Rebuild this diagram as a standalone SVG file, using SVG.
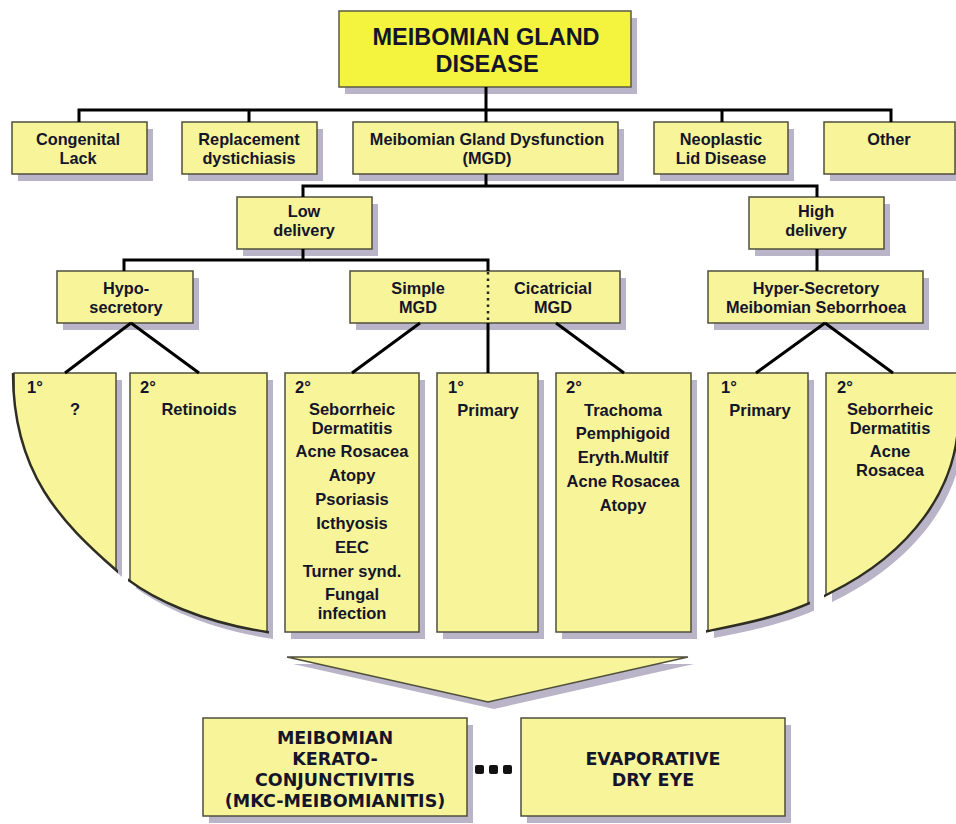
<svg xmlns="http://www.w3.org/2000/svg" width="956" height="824" viewBox="0 0 956 824">
<style>
.box{fill:#f7f499;stroke:#4f4f3c;stroke-width:1.5}
.ttlbox{fill:#f4f43e;stroke:#5a5a46;stroke-width:1.5}
.sh{fill:#bab4c8}
.edge{fill:none;stroke:#2e2e22;stroke-width:2.5}
.t{font-family:"Liberation Sans",Arial,sans-serif;font-weight:bold;font-size:16.3px;fill:#15152a;text-anchor:middle}
.r4{font-size:16.5px}
.s{text-anchor:start}
.ttl{font-size:23.5px}
.big{font-family:"DejaVu Sans","Liberation Sans",sans-serif;font-size:17.5px}
.ln{fill:none;stroke:#000;stroke-width:3}
.dot{fill:none;stroke:#2a2a1a;stroke-width:2.5;stroke-dasharray:2.5 4}
</style>
<defs>
<clipPath id="cc"><path d="M13,373 C13,473 61,522 116,570 C151,601 207,623 267,632 C337,642 418,652 488,652 C558,652 638,645 708,631 C748,623 790,615 830,593 C905,556 965,490 958,400 L960,300 L0,300 L0,373 Z"/></clipPath>
<clipPath id="cA"><rect x="11" y="370" width="107" height="300"/></clipPath>
<clipPath id="cB"><rect x="128" y="370" width="141" height="300"/></clipPath>
<clipPath id="cF"><rect x="706" y="370" width="104" height="300"/></clipPath>
<clipPath id="cG"><rect x="824" y="370" width="140" height="300"/></clipPath>
<path id="curve" d="M13,373 C13,473 61,522 116,570 C151,601 207,623 267,632 C337,642 418,652 488,652 C558,652 638,645 708,631 C748,623 790,615 830,593 C905,556 965,490 958,400"/>
</defs>

<g id="n-root">
<rect class="sh" x="345" y="18" width="292" height="76"/>
<rect class="ttlbox" x="339" y="11" width="292" height="76"/>
<text class="t ttl" x="486" y="45">MEIBOMIAN GLAND</text>
<text class="t ttl" x="487" y="72">DISEASE</text>
</g>

<g id="n-congenital">
<rect class="sh" x="18" y="129" width="135" height="52"/>
<rect class="box" x="12" y="122" width="135" height="52"/>
<text class="t" x="78" y="145">Congenital</text>
<text class="t" x="78" y="164">Lack</text>
</g>
<g id="n-replacement">
<rect class="sh" x="188" y="129" width="135" height="52"/>
<rect class="box" x="182" y="122" width="135" height="52"/>
<text class="t" x="249" y="145">Replacement</text>
<text class="t" x="249" y="164">dystichiasis</text>
</g>
<g id="n-mgd">
<rect class="sh" x="359" y="129" width="265" height="52"/>
<rect class="box" x="353" y="122" width="265" height="52"/>
<text class="t" x="487" y="145">Meibomian Gland Dysfunction</text>
<text class="t" x="487" y="164">(MGD)</text>
</g>
<g id="n-neoplastic">
<rect class="sh" x="660" y="129" width="134" height="52"/>
<rect class="box" x="654" y="122" width="134" height="52"/>
<text class="t" x="721" y="145">Neoplastic</text>
<text class="t" x="721" y="164">Lid Disease</text>
</g>
<g id="n-other">
<rect class="sh" x="830" y="129" width="131" height="52"/>
<rect class="box" x="824" y="122" width="131" height="52"/>
<text class="t" x="889" y="145">Other</text>
</g>

<g id="n-low">
<rect class="sh" x="243" y="204" width="135" height="52"/>
<rect class="box" x="237" y="197" width="135" height="52"/>
<text class="t" x="304" y="217">Low</text>
<text class="t" x="304" y="236">delivery</text>
</g>
<g id="n-high">
<rect class="sh" x="755" y="204" width="135" height="52"/>
<rect class="box" x="749" y="197" width="135" height="52"/>
<text class="t" x="816" y="217">High</text>
<text class="t" x="816" y="236">delivery</text>
</g>

<g id="n-hypo">
<rect class="sh" x="63" y="278" width="136" height="52"/>
<rect class="box" x="57" y="271" width="136" height="52"/>
<text class="t" x="126" y="294">Hypo-</text>
<text class="t" x="126" y="313">secretory</text>
</g>
<g id="n-simple-cicatricial">
<rect class="sh" x="356" y="278" width="270" height="52"/>
<rect class="box" x="350" y="271" width="270" height="52"/>
<text class="t" x="418" y="294">Simple</text>
<text class="t" x="418" y="313">MGD</text>
<text class="t" x="553" y="294">Cicatricial</text>
<text class="t" x="553" y="313">MGD</text>
</g>
<g id="n-hyper">
<rect class="sh" x="714" y="278" width="215" height="52"/>
<rect class="box" x="708" y="271" width="215" height="52"/>
<text class="t" x="816" y="294">Hyper-Secretory</text>
<text class="t" x="816" y="313">Meibomian Seborrhoea</text>
</g>

<g id="n-hypo-1">
<g transform="translate(6,7)" clip-path="url(#cc)"><rect class="sh" x="14" y="373" width="102" height="290"/></g>
<g clip-path="url(#cc)"><rect class="box" x="14" y="373" width="102" height="290"/></g>
<use href="#curve" class="edge" clip-path="url(#cA)"/>
<text class="t r4 s" x="27" y="393">1°</text>
<text class="t r4" x="75" y="415">?</text>
</g>
<g id="n-hypo-2">
<g transform="translate(6,7)" clip-path="url(#cc)"><rect class="sh" x="130" y="373" width="137" height="290"/></g>
<g clip-path="url(#cc)"><rect class="box" x="130" y="373" width="137" height="290"/></g>
<use href="#curve" class="edge" clip-path="url(#cB)"/>
<text class="t r4 s" x="140" y="393">2°</text>
<text class="t r4" x="199" y="415">Retinoids</text>
</g>
<g id="n-simple-2">
<rect class="sh" x="291" y="380" width="134" height="259"/>
<rect class="box" x="285" y="373" width="134" height="259"/>
<text class="t r4 s" x="295" y="393">2°</text>
<text class="t r4" x="352" y="415">Seborrheic</text>
<text class="t r4" x="352" y="434">Dermatitis</text>
<text class="t r4" x="352" y="457">Acne Rosacea</text>
<text class="t r4" x="352" y="481">Atopy</text>
<text class="t r4" x="352" y="505">Psoriasis</text>
<text class="t r4" x="352" y="529">Icthyosis</text>
<text class="t r4" x="352" y="553">EEC</text>
<text class="t r4" x="352" y="577">Turner synd.</text>
<text class="t r4" x="352" y="600">Fungal</text>
<text class="t r4" x="352" y="619">infection</text>
</g>
<g id="n-mgd-1">
<rect class="sh" x="443" y="380" width="101" height="259"/>
<rect class="box" x="437" y="373" width="101" height="259"/>
<text class="t r4 s" x="448" y="393">1°</text>
<text class="t r4" x="488" y="416">Primary</text>
</g>
<g id="n-cicatricial-2">
<rect class="sh" x="562" y="380" width="135" height="259"/>
<rect class="box" x="556" y="373" width="135" height="259"/>
<text class="t r4 s" x="566" y="393">2°</text>
<text class="t r4" x="623" y="416">Trachoma</text>
<text class="t r4" x="623" y="439">Pemphigoid</text>
<text class="t r4" x="623" y="463">Eryth.Multif</text>
<text class="t r4" x="623" y="487">Acne Rosacea</text>
<text class="t r4" x="623" y="511">Atopy</text>
</g>
<g id="n-hyper-1">
<g transform="translate(6,7)" clip-path="url(#cc)"><rect class="sh" x="708" y="373" width="100" height="290"/></g>
<g clip-path="url(#cc)"><rect class="box" x="708" y="373" width="100" height="290"/></g>
<use href="#curve" class="edge" clip-path="url(#cF)"/>
<text class="t r4 s" x="721" y="393">1°</text>
<text class="t r4" x="760" y="416">Primary</text>
</g>
<g id="n-hyper-2">
<g transform="translate(6,7)" clip-path="url(#cc)"><rect class="sh" x="826" y="373" width="140" height="290"/></g>
<g clip-path="url(#cc)"><rect class="box" x="826" y="373" width="140" height="290"/></g>
<use href="#curve" class="edge" clip-path="url(#cG)"/>
<text class="t r4 s" x="837" y="393">2°</text>
<text class="t r4" x="890" y="415">Seborrheic</text>
<text class="t r4" x="890" y="434">Dermatitis</text>
<text class="t r4" x="890" y="457">Acne</text>
<text class="t r4" x="890" y="476">Rosacea</text>
</g>

<g id="n-arrow">
<polygon class="sh" points="293,664 694,664 494,709"/>
<polygon class="box" points="287,657 688,657 488,702"/>
</g>

<g id="n-mkc">
<rect class="sh" x="209" y="725" width="264" height="98"/>
<rect class="box" x="203" y="718" width="264" height="98"/>
<text class="t big" x="335" y="744">MEIBOMIAN</text>
<text class="t big" x="335" y="765">KERATO-</text>
<text class="t big" x="335" y="786">CONJUNCTIVITIS</text>
<text class="t big" x="335" y="807">(MKC-MEIBOMIANITIS)</text>
</g>
<g id="n-dots">
<rect x="475" y="765" width="9" height="9" rx="2" fill="#111"/>
<rect x="489" y="765" width="9" height="9" rx="2" fill="#111"/>
<rect x="503" y="765" width="9" height="9" rx="2" fill="#111"/>
</g>
<g id="n-evap">
<rect class="sh" x="527" y="725" width="264" height="98"/>
<rect class="box" x="521" y="718" width="264" height="98"/>
<text class="t big" x="653" y="765">EVAPORATIVE</text>
<text class="t big" x="653" y="786">DRY EYE</text>
</g>

<g id="connectors">
<path class="ln" d="M79,122 V110 H891 V122 M249,110 V122 M486,87 V122 M722,110 V122"/>
<path class="ln" d="M303,197 V186 H817 V197 M486,174 V186"/>
<path class="ln" d="M124,271 V260 H488 V271 M303,249 V260"/>
<path class="ln" d="M817,249 V271"/>
<path class="dot" d="M488,272 V323"/>
<path class="ln" d="M488,323 V373"/>
<path class="ln" d="M131,323 L65,373 M131,323 L199,373 M420,323 L352,373 M556,323 L624,373 M825,323 L756,373 M825,323 L893,373"/>
</g>
</svg>
